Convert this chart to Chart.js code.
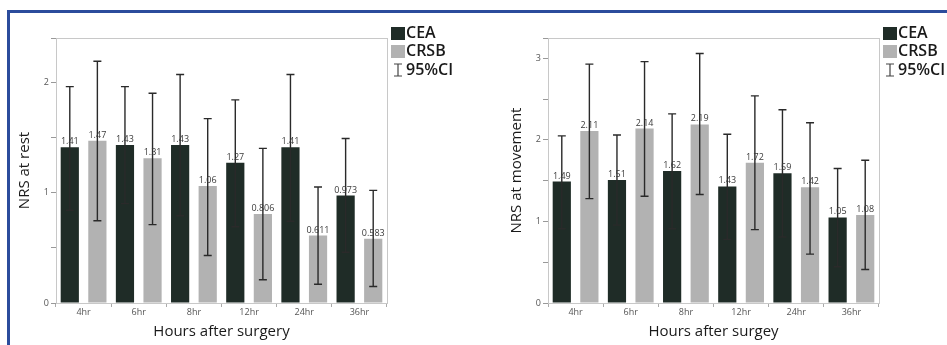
<!DOCTYPE html>
<html>
<head>
<meta charset="utf-8">
<script src="https://cdn.jsdelivr.net/npm/chart.js@4.4.1/dist/chart.umd.min.js"></script>
<style>
  body { margin: 0; background: #fff; }
  #wrap { position: relative; width: 947px; height: 345px; overflow: hidden; }
  #frame { position: absolute; left: 7px; top: 10px; width: 960px; height: 360px;
           border-left: 3px solid #2b4c9c; border-top: 3px solid #2b4c9c; }
  .box { position: absolute; top: 0; height: 345px; }
</style>
</head>
<body>
<div id="wrap">
  <div id="frame"></div>
  <div class="box" style="left:0;width:470px"><canvas id="rest"></canvas></div>
  <div class="box" style="left:470px;width:477px"><canvas id="move"></canvas></div>
</div>
<script>
const hours = ["4hr", "6hr", "8hr", "12hr", "24hr", "36hr"];

// NRS at rest
const restCEA = [1.41, 1.43, 1.43, 1.27, 1.41, 0.973];
const restCEALow = [0.84, 0.90, 0.79, 0.69, 0.74, 0.46];
const restCEAHigh = [1.96, 1.96, 2.07, 1.84, 2.07, 1.49];
const restCRSB = [1.47, 1.31, 1.06, 0.806, 0.611, 0.583];
const restCRSBLow = [0.745, 0.71, 0.43, 0.21, 0.17, 0.15];
const restCRSBHigh = [2.19, 1.90, 1.67, 1.40, 1.05, 1.02];

// NRS at movement
const moveCEA = [1.49, 1.51, 1.62, 1.43, 1.59, 1.05];
const moveCEALow = [0.91, 0.955, 0.91, 0.78, 0.81, 0.445];
const moveCEAHigh = [2.05, 2.06, 2.32, 2.07, 2.37, 1.65];
const moveCRSB = [2.11, 2.14, 2.19, 1.72, 1.42, 1.08];
const moveCRSBLow = [1.28, 1.31, 1.33, 0.90, 0.60, 0.41];
const moveCRSBHigh = [2.93, 2.96, 3.06, 2.54, 2.21, 1.75];

const FONT = "'Open Sans', 'DejaVu Sans', sans-serif";
const darkCol = "#1f2c27";
const greyCol = "#b2b2b2";

// error bars, value labels, frame box and side legend
const extras = {
  id: "extras",
  afterDatasetsDraw(chart) {
    const ctx = chart.ctx;
    const y = chart.scales.y;
    const a = chart.chartArea;
    ctx.save();
    chart.data.datasets.forEach((ds, di) => {
      const meta = chart.getDatasetMeta(di);
      meta.data.forEach((bar, i) => {
        const x = bar.x;
        const lo = y.getPixelForValue(ds.low[i]);
        const hi = y.getPixelForValue(ds.high[i]);
        ctx.strokeStyle = "#2a2a2a";
        ctx.lineWidth = 1.4;
        ctx.beginPath();
        ctx.moveTo(x, lo); ctx.lineTo(x, hi);
        ctx.moveTo(x - 4, lo); ctx.lineTo(x + 4, lo);
        ctx.moveTo(x - 4, hi); ctx.lineTo(x + 4, hi);
        ctx.stroke();
        ctx.fillStyle = "#3a3a3a";
        ctx.font = "9px " + FONT;
        ctx.textAlign = "center";
        ctx.textBaseline = "bottom";
        ctx.fillText(String(ds.data[i]), x, bar.y - 1);
      });
    });
    // frame around plot
    ctx.strokeStyle = "#c8c8c8";
    ctx.lineWidth = 1;
    ctx.strokeRect(a.left + 0.5, a.top + 0.5, a.right - a.left, a.bottom - a.top);
    // legend
    const lx = a.right + 4;
    ctx.font = "600 16px " + FONT;
    ctx.textAlign = "left";
    ctx.textBaseline = "middle";
    chart.data.datasets.forEach((ds, di) => {
      const ty = 33 + di * 18;
      ctx.fillStyle = ds.backgroundColor;
      ctx.fillRect(lx, ty - 6, 14, 13);
      ctx.fillStyle = "#1a1a1a";
      ctx.fillText(ds.label, lx + 15, ty);
    });
    const iy = 70;
    ctx.strokeStyle = "#444";
    ctx.lineWidth = 1.2;
    ctx.beginPath();
    ctx.moveTo(lx + 7, iy - 6); ctx.lineTo(lx + 7, iy + 6);
    ctx.moveTo(lx + 3, iy - 6); ctx.lineTo(lx + 11, iy - 6);
    ctx.moveTo(lx + 3, iy + 6); ctx.lineTo(lx + 11, iy + 6);
    ctx.stroke();
    ctx.fillStyle = "#1a1a1a";
    ctx.fillText("95%CI", lx + 15, iy);
    ctx.restore();
  }
};

function makeChart(id, yTitle, xTitle, cea, ceaLo, ceaHi, crsb, crsbLo, crsbHi, yMax, yW, padR, titlePad) {
  return new Chart(document.getElementById(id).getContext("2d"), {
    type: "bar",
    data: {
      labels: hours,
      datasets: [
        { label: "CEA", data: cea, low: ceaLo, high: ceaHi, backgroundColor: darkCol,
          categoryPercentage: 1.0, barPercentage: 0.66 },
        { label: "CRSB", data: crsb, low: crsbLo, high: crsbHi, backgroundColor: greyCol,
          categoryPercentage: 1.0, barPercentage: 0.66 }
      ]
    },
    options: {
      responsive: true,
      maintainAspectRatio: false,
      animation: false,
      layout: { padding: { top: 38, right: padR, left: 0, bottom: 0 } },
      plugins: { legend: { display: false }, tooltip: { enabled: false } },
      scales: {
        x: {
          grid: { display: true, offset: true, drawOnChartArea: false, tickLength: 4, color: "#aaa" },
          border: { color: "#c8c8c8" },
          ticks: { color: "#555", font: { family: FONT, size: 9 }, padding: 0 },
          title: { display: true, text: xTitle, color: "#1a1a1a", font: { family: FONT, size: 15 }, padding: { top: 4 } },
          afterFit(s) { s.height = 42; }
        },
        y: {
          min: 0,
          max: yMax,
          grid: { display: true, drawOnChartArea: false, tickLength: 5, color: "#999" },
          border: { color: "#c8c8c8" },
          ticks: {
            stepSize: 0.5,
            color: "#555",
            padding: 2,
            font: { family: FONT, size: 9 },
            callback: v => (Number.isInteger(v) ? v : "")
          },
          title: { display: true, text: yTitle, color: "#1a1a1a", font: { family: FONT, size: 15 }, padding: { top: titlePad } },
          afterFit(s) { s.width = yW; }
        }
      }
    },
    plugins: [extras]
  });
}

makeChart("rest", "NRS at rest", "Hours after surgery",
  restCEA, restCEALow, restCEAHigh, restCRSB, restCRSBLow, restCRSBHigh, 2.4, 56, 83, 16);
makeChart("move", "NRS at movement", "Hours after surgey",
  moveCEA, moveCEALow, moveCEAHigh, moveCRSB, moveCRSBLow, moveCRSBHigh, 3.25, 78, 68, 38);
</script>
</body>
</html>
